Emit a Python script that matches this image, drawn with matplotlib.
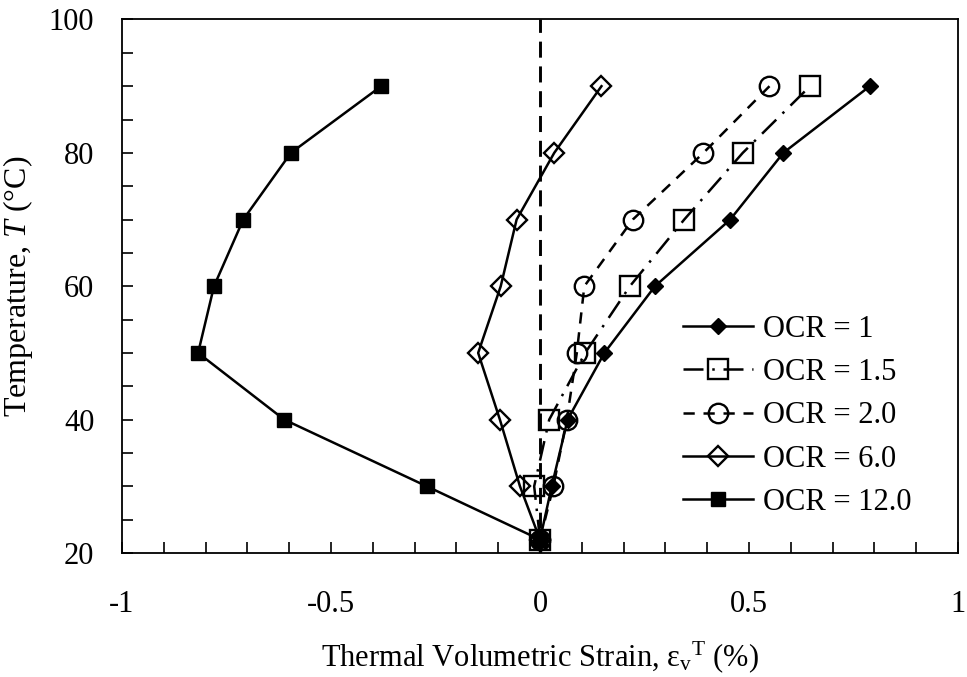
import matplotlib
matplotlib.use("Agg")
import matplotlib.pyplot as plt
from matplotlib.ticker import MultipleLocator, FuncFormatter

plt.rcParams['font.family'] = ['Liberation Serif', 'DejaVu Serif']
plt.rcParams['mathtext.fontset'] = 'custom'
plt.rcParams['mathtext.rm'] = 'Liberation Serif'
plt.rcParams['mathtext.it'] = 'Liberation Serif:italic'

# Temperature steps (°C)
temperature = [22, 30, 40, 50, 60, 70, 80, 90]

# Thermal volumetric strain (%) for each overconsolidation ratio
strain_ocr1 = [0.0, 0.028, 0.066, 0.154, 0.275, 0.455, 0.582, 0.789]
strain_ocr15 = [0.0, -0.014, 0.022, 0.108, 0.215, 0.345, 0.485, 0.646]
strain_ocr2 = [0.0, 0.032, 0.064, 0.088, 0.106, 0.222, 0.391, 0.549]
strain_ocr6 = [0.0, -0.048, -0.096, -0.148, -0.094, -0.056, 0.034, 0.147]
strain_ocr12 = [0.0, -0.271, -0.612, -0.818, -0.780, -0.710, -0.596, -0.380]

labels = ["OCR = 1", "OCR = 1.5", "OCR = 2.0", "OCR = 6.0", "OCR = 12.0"]

fig = plt.figure(figsize=(9.67, 6.77), dpi=100)
ax = fig.add_axes([0.1262, 0.1832, 0.8645, 0.7880])

# zero-strain reference line
ax.plot([0, 0], [20, 100], color='black', lw=2.1, dashes=(5.5, 3), zorder=1)

lw = 1.8
ax.plot(strain_ocr1, temperature, color='black', lw=lw, marker='D', ms=8.5,
        mfc='black', mec='black', label=labels[0], zorder=3)
ax.plot(strain_ocr15, temperature, color='black', lw=lw, dashes=(8, 3.5, 1, 3.5),
        marker='s', ms=14.5, mfc='none', mec='black', mew=1.7, label=labels[1], zorder=3)
ax.plot(strain_ocr2, temperature, color='black', lw=lw, dashes=(4.5, 3.5),
        marker='o', ms=14, mfc='none', mec='black', mew=1.7, label=labels[2], zorder=3)
ax.plot(strain_ocr6, temperature, color='black', lw=lw, marker='D', ms=10.5,
        mfc='none', mec='black', mew=1.7, label=labels[3], zorder=3)
ax.plot(strain_ocr12, temperature, color='black', lw=lw, marker='s', ms=9.5,
        mfc='black', mec='black', label=labels[4], zorder=4)

ax.set_xlim(-1, 1)
ax.set_ylim(20, 100)
ax.xaxis.set_major_locator(MultipleLocator(0.5))
ax.xaxis.set_minor_locator(MultipleLocator(0.1))
ax.yaxis.set_major_locator(MultipleLocator(20))
ax.yaxis.set_minor_locator(MultipleLocator(5))
ax.xaxis.set_major_formatter(FuncFormatter(lambda v, p: '%g' % v if abs(v) > 1e-9 else '0'))
ax.yaxis.set_major_formatter(FuncFormatter(lambda v, p: '%g' % v))
ax.tick_params(which='both', direction='in', length=8, width=1.2,
               top=False, right=False, labelsize=22)
ax.tick_params(axis='x', which='major', pad=27)
ax.tick_params(axis='y', which='major', pad=20)
for s in ax.spines.values():
    s.set_linewidth(1.3)

ax.set_xlabel(r'Thermal Volumetric Strain, $\mathrm{\varepsilon_v}^{\mathrm{T}}$ (%)',
              fontsize=22, labelpad=14)
ax.set_ylabel(r'Temperature, $\mathit{T}$ (°C)', fontsize=23, labelpad=10)

leg = ax.legend(loc='upper left', bbox_to_anchor=(0.671, 0.447), frameon=False,
                fontsize=22, handlelength=2.3, handletextpad=0.33,
                labelspacing=0.47, borderaxespad=0, borderpad=0)

fig.savefig('out.png', dpi=100)
